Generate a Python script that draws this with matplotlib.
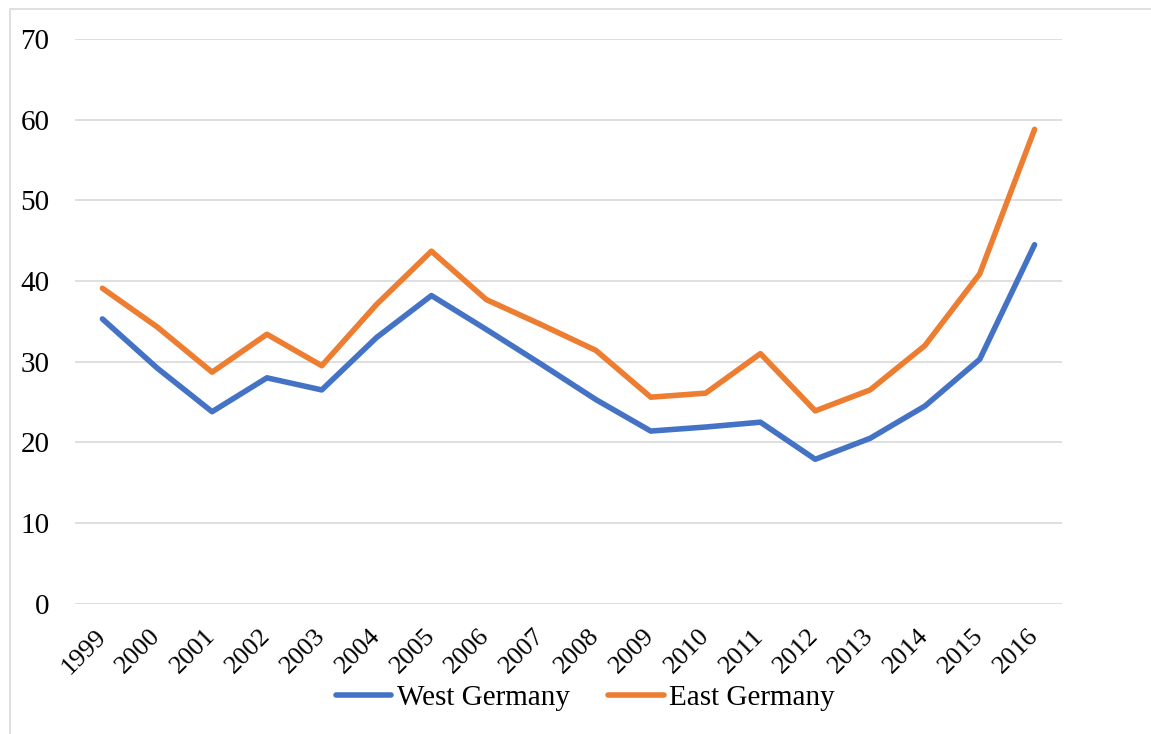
import matplotlib
matplotlib.use('Agg')
import matplotlib.pyplot as plt
import matplotlib.transforms as mtrans
from matplotlib.patches import Rectangle

# values
years = ['1999', '2000', '2001', '2002', '2003', '2004', '2005', '2006', '2007',
         '2008', '2009', '2010', '2011', '2012', '2013', '2014', '2015', '2016']
west = [35.3, 29.2, 23.8, 28.0, 26.5, 33.0, 38.2, 34.0, 29.7,
        25.3, 21.4, 21.9, 22.5, 17.9, 20.5, 24.5, 30.3, 44.5]
east = [39.1, 34.3, 28.7, 33.4, 29.5, 37.1, 43.7, 37.7, 34.6,
        31.4, 25.6, 26.1, 31.0, 23.9, 26.5, 32.0, 40.9, 58.8]
yticks = [0, 10, 20, 30, 40, 50, 60, 70]

plt.rcParams['font.family'] = ['Liberation Serif', 'DejaVu Serif']

W, H = 1151, 734
fig = plt.figure(figsize=(W/100, H/100), dpi=100)
ax = fig.add_axes([75/W, 1-603.7/H, (1062-75)/W, (603.7-39)/H])

x = range(len(years))
ax.plot(x, west, color='#4472C4', lw=4, solid_capstyle='round',
        solid_joinstyle='round', label='West Germany')
ax.plot(x, east, color='#ED7D31', lw=4, solid_capstyle='round',
        solid_joinstyle='round', label='East Germany')

ax.set_xlim(-0.5, len(years)-0.5)
ax.set_ylim(0, 70)
ax.set_yticks(yticks)
ax.set_yticklabels([str(v) for v in yticks], fontsize=21)
ax.set_xticks(list(x))
ax.set_xticklabels(years, fontsize=19, rotation=45, ha='right', va='center',
                   rotation_mode='anchor')
shift = mtrans.ScaledTranslation(-4/100, 0, fig.dpi_scale_trans)
for lab in ax.get_xticklabels():
    lab.set_transform(lab.get_transform() + shift)

ax.tick_params(axis='y', length=0, pad=18.5)
ax.tick_params(axis='x', length=0, pad=21)
ax.grid(axis='y', color='#D9D9D9', lw=1.2)
ax.set_axisbelow(True)
for s in ax.spines.values():
    s.set_visible(False)

fig.legend(loc='center', bbox_to_anchor=(585.5/W, 1-698/H), ncol=2,
           frameon=False, fontsize=21, handlelength=1.9, handletextpad=0.2,
           columnspacing=1.3)

# outer chart border (only left and top fall inside the picture)
fig.patches.append(Rectangle((10/W, -0.1), 1.2, 1.1-9.5/H, transform=fig.transFigure,
                             fill=False, edgecolor='#D9D9D9', lw=1.2))

fig.savefig('out.png', dpi=100)
